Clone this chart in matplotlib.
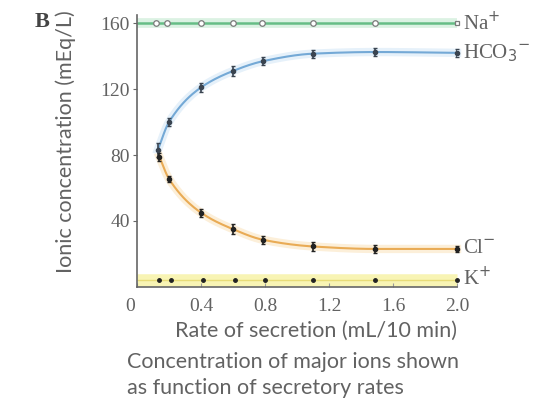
import numpy as np
import matplotlib
matplotlib.use("Agg")
import matplotlib.pyplot as plt
import matplotlib.transforms as mtransforms

# values (rate in mL/10 min, concentration in mEq/L)
na_rate = [0.12, 0.19, 0.4, 0.6, 0.78, 1.1, 1.49, 2.0]
na_conc = [160, 160, 160, 160, 160, 160, 160, 160]

hco3_rate = [0.13, 0.2, 0.4, 0.6, 0.79, 1.1, 1.49, 2.0]
hco3_conc = [83, 100, 121, 131, 137, 141.5, 142.5, 142]
hco3_err = [4, 2.5, 2.5, 3, 2.5, 2.5, 2.5, 2.5]

cl_rate = [0.14, 0.2, 0.4, 0.6, 0.79, 1.1, 1.49, 2.0]
cl_conc = [79, 65.5, 45, 35, 28.5, 24.5, 23, 23]
cl_err = [2.5, 2, 2.5, 3, 2.5, 2.5, 2.5, 2]

k_rate = [0.14, 0.21, 0.41, 0.61, 0.8, 1.1, 1.49, 2.0]
k_conc = [4, 4, 4, 4, 4, 4, 4, 4]

x_ticks = [0, 0.4, 0.8, 1.2, 1.6, 2.0]
x_ticklabels = ["0", "0.4", "0.8", "1.2", "1.6", "2.0"]
y_ticks = [40, 80, 120, 160]


def pchip(x, y, n=200):
    # monotone cubic, only used to draw a smooth line through the read points
    x = np.asarray(x, float)
    y = np.asarray(y, float)
    h = np.diff(x)
    d = np.diff(y) / h
    m = np.zeros_like(y)
    for i in range(1, len(x) - 1):
        if d[i - 1] * d[i] > 0:
            w1 = 2 * h[i] + h[i - 1]
            w2 = h[i] + 2 * h[i - 1]
            m[i] = (w1 + w2) / (w1 / d[i - 1] + w2 / d[i])
    m[0] = d[0]
    m[-1] = d[-1]
    xs = np.linspace(x[0], x[-1], n)
    idx = np.clip(np.searchsorted(x, xs) - 1, 0, len(x) - 2)
    t = (xs - x[idx]) / h[idx]
    h00 = 2 * t**3 - 3 * t**2 + 1
    h10 = t**3 - 2 * t**2 + t
    h01 = -2 * t**3 + 3 * t**2
    h11 = t**3 - t**2
    ys = h00 * y[idx] + h10 * h[idx] * m[idx] + h01 * y[idx + 1] + h11 * h[idx] * m[idx + 1]
    return xs, ys


txt = "#626262"
serif = "Liberation Serif"
sans = "Lato"

fig = plt.figure(figsize=(5.48, 4.04), dpi=100)
ax = fig.add_axes([0.25, 0.29, 0.584, 0.673])

# Na+ (band runs across the whole axis)
ax.axhline(na_conc[0], color="#dbf2e3", lw=7, solid_capstyle="butt", zorder=1)
ax.axhline(na_conc[0], color="#66bd86", lw=1.8, solid_capstyle="butt", zorder=2)
ax.plot(na_rate[:-1], na_conc[:-1], "o", ms=4, mfc="white", mec="#7a7a7a", mew=0.9, zorder=3)
ax.plot(na_rate[-1:], na_conc[-1:], "s", ms=3.5, mfc="white", mec="#7a7a7a", mew=0.9, zorder=3)

# HCO3-
xs, ys = pchip(hco3_rate, hco3_conc)
ax.plot(xs, ys, color="#e6f1fa", lw=6, zorder=1)
ax.plot(xs, ys, color="#74a9d6", lw=1.5, zorder=2)
ax.errorbar(hco3_rate, hco3_conc, yerr=hco3_err, fmt="o", ms=3, color="#3a4450",
            elinewidth=1.2, capsize=1.5, capthick=1, zorder=3)

# Cl-
xs, ys = pchip(cl_rate, cl_conc)
ax.plot(xs, ys, color="#fcefd9", lw=6, zorder=1)
ax.plot(xs, ys, color="#e9ab55", lw=1.5, zorder=2)
ax.errorbar(cl_rate, cl_conc, yerr=cl_err, fmt="o", ms=3, color="#222222",
            elinewidth=1.2, capsize=1.5, capthick=1, zorder=3)

# K+ (band runs across the whole axis)
ax.axhline(k_conc[0], color="#f8f4b4", lw=9, solid_capstyle="butt", zorder=1)
ax.axhline(k_conc[0], color="#e8dc78", lw=1, solid_capstyle="butt", zorder=2)
ax.plot(k_rate, k_conc, "o", ms=2.5, color="#222222", zorder=3)

ax.set_xlim(0, 2.0)
ax.set_ylim(0, 165)
ax.set_xticks(x_ticks)
ax.set_xticklabels(x_ticklabels)
ax.set_yticks(y_ticks)
for s in ["top", "right"]:
    ax.spines[s].set_visible(False)
for s in ["left", "bottom"]:
    ax.spines[s].set_color("#666666")
    ax.spines[s].set_linewidth(1.2)
ax.tick_params(axis="x", direction="in", length=3, colors="#999999", labelcolor=txt, pad=8)
ax.tick_params(axis="y", direction="out", length=3, colors="#666666", labelcolor=txt, pad=2)
for lab in ax.get_xticklabels() + ax.get_yticklabels():
    lab.set_fontfamily(serif)
    lab.set_fontsize(14)
# the "0" sits a little left of the axis in the original
zero = ax.get_xticklabels()[0]
zero.set_transform(zero.get_transform() + mtransforms.ScaledTranslation(-7 / 100, 0, fig.dpi_scale_trans))
for art in ax.lines:
    art.set_clip_on(False)

ax.set_xlabel("Rate of secretion (mL/10 min)", family=sans, fontsize=15.5, color=txt)
ax.xaxis.set_label_coords(0.56, -0.125)
ax.set_ylabel("Ionic concentration (mEq/L)", family=sans, fontsize=15.5, color=txt)
ax.yaxis.set_label_coords(-0.19, 0.535)

# series labels at right end
lab_kw = dict(family=serif, fontsize=15, color=txt, va="center", ha="left", clip_on=False)
ax.text(2.04, 160, "Na$^{+}$", **lab_kw)
ax.text(2.04, 142, "HCO$_3$$^{-}$", **lab_kw)
ax.text(2.04, 23, "Cl$^{-}$", **lab_kw)
ax.text(2.04, 5, "K$^{+}$", **lab_kw)

fig.text(0.064, 0.945, "B", family=serif, fontsize=16, fontweight="bold", color="#444444",
         va="center", ha="left")
fig.text(0.232, 0.072, "Concentration of major ions shown\nas function of secretory rates",
         family=sans, fontsize=15.5, color=txt, ha="left", va="center", linespacing=1.4)

fig.savefig("out.png", dpi=100)
